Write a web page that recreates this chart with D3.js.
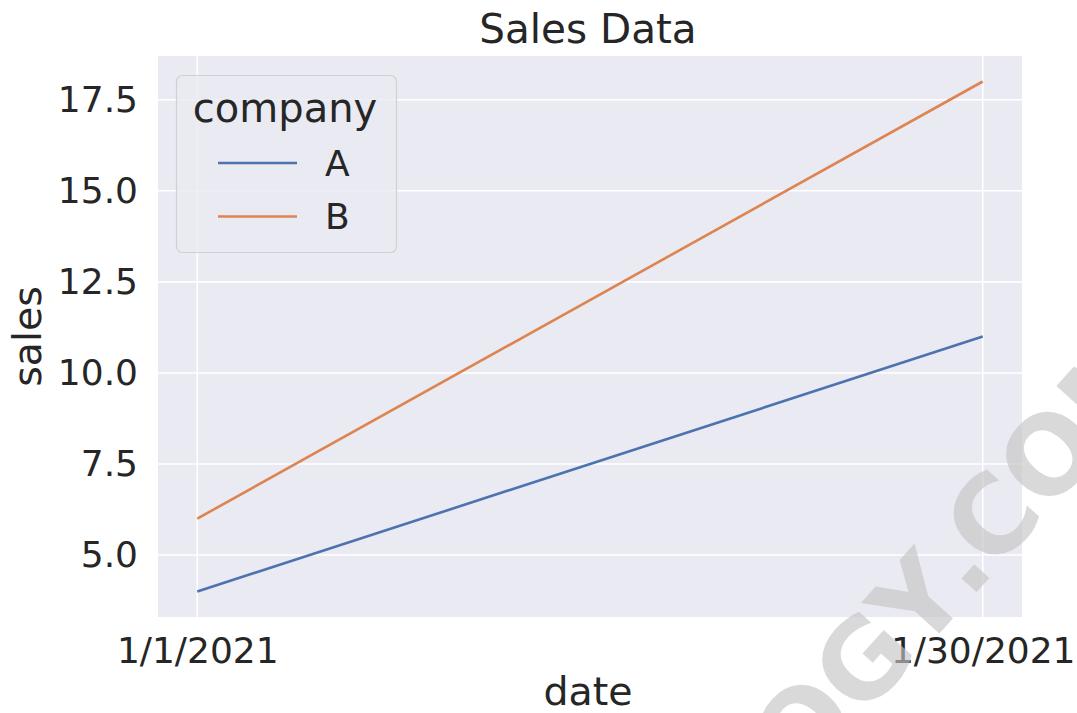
<!DOCTYPE html>
<meta charset="utf-8">
<script src="https://d3js.org/d3.v7.min.js"></script>
<style>
  body { margin: 0; background: #fff; }
  text { font-family: "DejaVu Sans", sans-serif; fill: #262626; }
</style>
<div id="my_dataviz"></div>
<script>

// data
var dates = ["1/1/2021", "1/30/2021"]
var salesA = [4, 11]
var salesB = [6, 18]
var companies = ["A", "B"]
var yTicks = [5.0, 7.5, 10.0, 12.5, 15.0, 17.5]

var width = 1077
var height = 713
var margin = {top: 56, right: 55, bottom: 96, left: 158}

var svg = d3.select("#my_dataviz")
  .append("svg")
    .attr("width", width)
    .attr("height", height)

var parse = d3.timeParse("%m/%d/%Y")
var series = [
  {key: "A", values: dates.map(function(d, i){ return {date: parse(d), value: salesA[i]} })},
  {key: "B", values: dates.map(function(d, i){ return {date: parse(d), value: salesB[i]} })}
]

var color = d3.scaleOrdinal()
  .domain(companies)
  .range(["#4c72b0", "#dd8452"])

// matplotlib style 5% padding on both axes
var xExt = d3.extent(dates, function(d){ return parse(d) })
var xPad = (xExt[1] - xExt[0]) * 0.05
var x = d3.scaleTime()
  .domain([new Date(+xExt[0] - xPad), new Date(+xExt[1] + xPad)])
  .range([margin.left, width - margin.right])

var allVals = salesA.concat(salesB)
var yMin = d3.min(allVals), yMax = d3.max(allVals)
var yPad = (yMax - yMin) * 0.05
var y = d3.scaleLinear()
  .domain([yMin - yPad, yMax + yPad])
  .range([height - margin.bottom, margin.top])

// background
svg.append("rect")
  .attr("x", margin.left)
  .attr("y", margin.top)
  .attr("width", width - margin.left - margin.right)
  .attr("height", height - margin.top - margin.bottom)
  .style("fill", "#eaeaf2")

// grid
svg.append("g")
  .selectAll("line")
  .data(yTicks)
  .enter()
  .append("line")
    .attr("x1", margin.left)
    .attr("x2", width - margin.right)
    .attr("y1", function(d){ return y(d) })
    .attr("y2", function(d){ return y(d) })
    .style("stroke", "#fff")
    .style("stroke-width", 1.6)

svg.append("g")
  .selectAll("line")
  .data(dates)
  .enter()
  .append("line")
    .attr("x1", function(d){ return x(parse(d)) })
    .attr("x2", function(d){ return x(parse(d)) })
    .attr("y1", margin.top)
    .attr("y2", height - margin.bottom)
    .style("stroke", "#fff")
    .style("stroke-width", 1.6)

// axes (labels only, seaborn darkgrid has no tick marks)
var yAxis = d3.axisLeft(y).tickValues(yTicks).tickFormat(d3.format(".1f")).tickSize(0).tickPadding(20)
var gy = svg.append("g")
  .attr("transform", "translate(" + margin.left + ",0)")
  .call(yAxis)
gy.select(".domain").remove()
gy.selectAll("text")
  .style("font-size", "36px")
  .style("font-family", "DejaVu Sans")
  .style("fill", "#262626")

var xAxis = d3.axisBottom(x).tickValues(dates.map(parse)).tickFormat(function(d, i){ return dates[i] }).tickSize(0).tickPadding(20)
var gx = svg.append("g")
  .attr("transform", "translate(0," + (height - margin.bottom) + ")")
  .call(xAxis)
gx.select(".domain").remove()
gx.selectAll("text")
  .style("font-size", "36px")
  .style("font-family", "DejaVu Sans")
  .style("fill", "#262626")

// lines
var line = d3.line()
  .x(function(d){ return x(d.date) })
  .y(function(d){ return y(d.value) })

svg.append("g")
  .selectAll("path")
  .data(series)
  .enter()
  .append("path")
    .attr("d", function(d){ return line(d.values) })
    .style("fill", "none")
    .style("stroke", function(d){ return color(d.key) })
    .style("stroke-width", 2.6)

// titles
svg.append("text")
  .attr("x", (margin.left + width - margin.right) / 2 - 2)
  .attr("y", 43)
  .attr("text-anchor", "middle")
  .style("font-size", "40.5px")
  .text("Sales Data")

svg.append("text")
  .attr("x", (margin.left + width - margin.right) / 2 - 2)
  .attr("y", 705)
  .attr("text-anchor", "middle")
  .style("font-size", "39.5px")
  .text("date")

svg.append("text")
  .attr("transform", "translate(41," + ((margin.top + height - margin.bottom) / 2) + ") rotate(-90)")
  .attr("text-anchor", "middle")
  .style("font-size", "39.5px")
  .text("sales")

// legend
var legend = svg.append("g")
legend.append("rect")
  .attr("x", 176.5)
  .attr("y", 75.5)
  .attr("width", 220)
  .attr("height", 177)
  .attr("rx", 6)
  .style("fill", "#eaeaf2")
  .style("fill-opacity", 0.8)
  .style("stroke", "#d0d0d6")
  .style("stroke-width", 1.2)

legend.append("text")
  .attr("x", 285)
  .attr("y", 122)
  .attr("text-anchor", "middle")
  .style("font-size", "40px")
  .text("company")

var item = legend.selectAll(".legend-item")
  .data(companies)
  .enter()
  .append("g")
  .attr("class", "legend-item")

item.append("line")
  .attr("x1", 218)
  .attr("x2", 297)
  .attr("y1", function(d, i){ return 163 + i * 53.5 })
  .attr("y2", function(d, i){ return 163 + i * 53.5 })
  .style("stroke", function(d){ return color(d) })
  .style("stroke-width", 2.6)

item.append("text")
  .attr("x", 325)
  .attr("y", function(d, i){ return 163 + i * 53.5 })
  .attr("dy", "0.36em")
  .style("font-size", "36px")
  .text(function(d){ return d })

// watermark
var wm = svg.append("g")
  .attr("transform", "translate(983,585) rotate(-48)")
  .style("font-family", "DejaVu Sans")
  .style("font-weight", "bold")
  .style("font-size", "108px")
wm.append("text").attr("text-anchor", "end").attr("x", -16).text("STATOLOGY")
wm.append("text").attr("text-anchor", "middle").text(".")
wm.append("text").attr("text-anchor", "start").attr("x", 16).text("COM")
wm.selectAll("text").style("fill", "#c4c4c4").style("fill-opacity", 0.65)

</script>
